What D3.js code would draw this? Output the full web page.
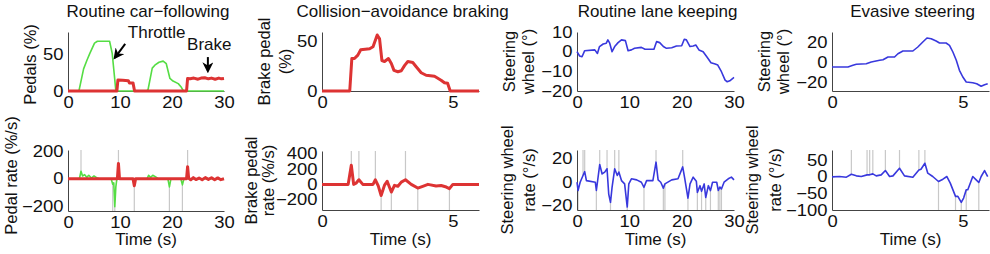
<!DOCTYPE html>
<html>
<head>
<meta charset="utf-8">
<script src="https://cdn.jsdelivr.net/npm/d3@7"></script>
<style>
  body { margin: 0; background: #fff; }
  svg { display: block; font-family: "Liberation Sans", Arial, sans-serif; }
</style>
</head>
<body>
<div id="wrapper"></div>
<script>
// ---- data ----
// routine car-following: pedal position (%)
const throttleT = [0, 2.1, 3.0, 3.66, 4.2, 5.1, 5.65, 8.0, 8.5, 9.0, 9.2, 15.1, 15.4, 16.2, 16.7, 17.5, 18.3, 18.9, 19.6, 20.2, 21.2, 21.8, 22.2, 30];
const throttleV = [0, 0, 30, 42, 51, 65, 67.5, 67.5, 51, 15, 0, 0, 2, 31, 35, 39, 40.5, 37, 17, 13.5, 10, 5, 0, 0];
const brakeT = [0, 9.4, 9.6, 10.5, 11.6, 11.8, 12.5, 12.8, 22.8, 23.0, 23.5, 24.2, 25, 25.6, 26.3, 27, 27.6, 28.3, 29, 29.5, 30];
const brakeV = [0, 0, 15, 14.5, 14, 11, 11, 0, 0, 17, 16.5, 17.5, 16, 17.5, 18, 16.5, 17.5, 16, 17.5, 16.5, 17];
// pedal rate (%/s)
const throttleRateT = [0, 2.2, 2.5, 2.8, 3.2, 3.6, 4.0, 4.5, 5.0, 5.5, 6.0, 8.3, 8.6, 8.8, 9.0, 9.2, 9.4, 15.2, 15.5, 15.9, 16.3, 16.8, 17.3, 19.2, 19.5, 19.8, 21.7, 22.0, 22.3, 30];
const throttleRateV = [0, 0, 55, 20, 30, 10, 25, 5, 20, 8, 0, 0, -40, -30, -205, -60, 0, 0, 25, 10, 25, 15, 0, 0, -60, 0, 0, -45, 0, 0];
const brakeRateT = [0, 9.5, 9.7, 9.9, 10.2, 12.5, 12.75, 13.0, 22.8, 23.0, 23.2, 23.6, 24.1, 24.6, 25.2, 25.8, 26.4, 27.0, 27.6, 28.2, 28.8, 29.4, 30];
const brakeRateV = [0, 0, 112, 0, 0, 0, -52, 0, 0, 88, 5, -8, 8, -6, 5, -8, 8, -5, 7, -8, 6, -7, 0];
const pedalPeaksUp = [["thr", 2.5], ["brk", 9.7], ["brk", 23.0]];
const pedalPeaksDown = [["thr", 8.6], ["thr", 9.0], ["brk", 12.75], ["thr", 19.5], ["thr", 22.0]];

// collision-avoidance braking
const cabT = [0, 1.06, 1.14, 1.24, 1.37, 1.48, 1.82, 1.95, 2.11, 2.2, 2.29, 2.39, 2.54, 2.65, 2.75, 2.9, 3.03, 3.16, 3.28, 3.47, 3.6, 3.79, 3.98, 4.3, 4.55, 4.68, 4.8, 4.9, 6];
const cabV = [0, 0, 33, 33, 36.5, 42, 43, 45, 57, 53, 31, 30, 33, 28, 21, 19.6, 20.6, 26, 30, 29, 24.7, 18.6, 16, 15, 11, 8.4, 7.8, 0, 0];
const cabRateT = [0, 1.0, 1.12, 1.21, 1.3, 1.41, 1.56, 1.95, 2.04, 2.15, 2.26, 2.39, 2.49, 2.65, 2.77, 2.9, 3.03, 3.19, 3.41, 3.66, 3.85, 4.05, 4.36, 4.55, 4.75, 4.87, 5.0, 6];
const cabRateV = [0, 0, 250, 0, 15, 60, 0, 0, 60, -20, -145, -10, 40, -100, -13, -25, 30, 60, 0, -48, -25, 0, -20, -15, -35, -55, 0, 0];
const cabPeaksUp = [1.12, 1.41, 2.04, 3.19];
const cabPeaksDown = [2.26, 2.65, 3.66, 4.87];

// routine lane keeping: steering wheel (deg)
const lkT = [0, 0.5, 0.96, 1.47, 3.4, 3.9, 4.3, 5.0, 5.6, 5.9, 6.25, 6.7, 7.2, 7.85, 8.5, 9.25, 9.76, 10.4, 11, 12.3, 13, 14.7, 15.2, 15.8, 16.5, 17.1, 18.1, 19, 20, 20.5, 20.9, 21.6, 22.2, 22.7, 23.3, 24.1, 24.8, 25.6, 26.4, 26.9, 27.6, 28.3, 28.7, 29.2, 30];
const lkV = [0, -2.2, -2.6, 0.5, 0.9, -0.9, 2.6, 3.9, 4.3, 6, 4.3, 0, 2.6, 4.6, 6, 5.6, 0.5, 0.9, 1.7, 2.2, 1.2, 1.2, 5.1, 4.6, 2.6, 1.7, 2, 2.9, 3, 6.3, 6, 2.6, 2.9, 3.4, 0.9, 0, -2.6, -5.6, -6.3, -6.8, -10.2, -14.5, -15.3, -14.8, -13.1];
const lkRateT = [0, 0.2, 0.6, 1.15, 1.47, 1.8, 3.5, 3.7, 4.34, 4.8, 5.3, 5.74, 6.06, 6.4, 6.7, 7.2, 7.7, 8.0, 8.5, 9.1, 9.6, 9.9, 10.4, 11.4, 12.3, 12.8, 13.3, 14.5, 15.1, 15.5, 16.0, 16.5, 16.8, 18.1, 19.3, 20.2, 20.6, 21.2, 21.6, 22.2, 22.8, 23.0, 23.5, 23.8, 24.3, 24.6, 25.1, 25.5, 25.9, 26.7, 27.0, 27.3, 27.6, 28.1, 28.9, 29.5, 30];
const lkRateV = [0, -7, 0, 5.7, 9, 1.4, 0, -7, 15, 7, 8.6, 11.4, -10, -17, -4.3, 11.4, 5.7, 8.6, 1.4, -1.4, -21, -1.4, 2.9, 2, 0, -4.3, 1.4, 1.4, 17, 2, 0, -5, -1.4, 2, 2.9, 13, 2.9, -13.4, -1.4, 4.3, 0.9, -8.6, -2.9, -7.7, -1.4, -12.9, -2.9, -7.1, 0, 0, -7, -4, -5.7, 0, 2.9, 4.3, 2];
const lkPeaksUp = [1.15, 1.47, 4.34, 5.74, 7.2, 8.0, 15.1, 20.2];
const lkPeaksDown = [0.2, 3.7, 6.4, 9.6, 12.8, 16.5, 16.8, 21.2, 23.0, 23.8, 24.6, 25.5, 27.0, 27.3, 27.6];

// evasive steering
const evT = [0, 0.61, 0.8, 0.93, 1.31, 1.5, 1.82, 1.95, 2.14, 2.39, 2.52, 2.71, 3.09, 3.28, 3.47, 3.63, 3.79, 3.98, 4.11, 4.36, 4.49, 4.62, 4.75, 4.87, 5.0, 5.13, 5.38, 5.53, 5.7, 5.83, 5.95];
const evV = [-5, -5, -3.3, -2.3, -1.7, 0, 1.7, 2.3, 5, 5, 8.3, 11, 11, 15, 20, 24, 23.3, 21, 19, 19, 16.7, 10, 1.7, -8.3, -15, -20, -20.7, -21.7, -24.3, -22.7, -21.7];
const evRateT = [0, 0.29, 0.55, 0.74, 0.93, 1.12, 1.34, 1.44, 1.56, 1.69, 1.88, 2.04, 2.2, 2.33, 2.58, 2.77, 3.09, 3.32, 3.4, 3.55, 3.66, 3.85, 4.07, 4.24, 4.39, 4.52, 4.72, 4.81, 4.94, 5.03, 5.13, 5.19, 5.38, 5.51, 5.61, 5.7, 5.83, 5.95];
const evRateV = [0, 1, -1, 8, 3, 1, 6, 6, 9, 3, 6, 19, 1, 3, 26, 3, -1, 21, 23, 41, 11, 1, -14, -7, 1, -19, -59, -59, -77, -64, -39, -39, 1, -9, -17, 1, 19, 1];
const evPeaksUp = [0.74, 1.34, 1.44, 1.56, 2.04, 2.58, 3.32, 3.55];
const evPeaksDown = [4.07, 4.72, 4.94, 5.13, 5.61];

const titles = ["Routine car\u2212following", "Collision\u2212avoidance braking", "Routine lane keeping", "Evasive steering"];

const GREEN = "#55dd44", RED = "#dd3333", BLUE = "#3838dd", GRAY = "#c8c8c8";
// tick numbers in the original look wider than they are tall
const TICK_FS = 16, TICK_SX = 1.15, LABEL_FS = 16.5, TITLE_FS = 17;

const zip = (t, v) => t.map((d, i) => ({t: d, v: v[i]}));

function drawPanels() {
    const svg = d3.select("#wrapper").append("svg")
        .attr("width", 990)
        .attr("height", 254);

    const label = (parent, txt, x, y, anchor, size, rot) => parent.append("text")
        .attr("transform", `translate(${x},${y})` + (rot ? " rotate(-90)" : ""))
        .attr("text-anchor", anchor)
        .attr("dominant-baseline", rot ? "central" : null)
        .attr("font-size", size)
        .attr("fill", "#111")
        .text(txt);

    const panels = [
        {x: [68, 224], y: [91, 32], xd: [0, 30], yd: [0, 80], xt: [0, 10, 20, 30], yt: [0, 50],
         series: [{d: zip(throttleT, throttleV), c: GREEN, w: 1.6}, {d: zip(brakeT, brakeV), c: RED, w: 3}],
         ylab: ["Pedals (%)"], ylx: [30], yoff: 3, title: titles[0]},
        {x: [68, 224], y: [211, 150], xd: [0, 30], yd: [-236, 210], xt: [0, 10, 20, 30], yt: [-200, 0, 200],
         series: [{k: "thr", d: zip(throttleRateT, throttleRateV), c: GREEN, w: 1.6}, {k: "brk", d: zip(brakeRateT, brakeRateV), c: RED, w: 3}],
         ylab: ["Pedal rate (%/s)"], ylx: [11], yoff: -5, time: true,
         up: pedalPeaksUp, down: pedalPeaksDown},
        {x: [322, 479], y: [91, 32], xd: [0, 6], yd: [0, 60], xt: [0, 5], yt: [0, 50],
         series: [{d: zip(cabT, cabV), c: RED, w: 3}],
         ylab: ["Brake pedal", "(%)"], ylx: [264, 285], title: titles[1]},
        {x: [322, 479], y: [210, 151], xd: [0, 6], yd: [-334, 435], xt: [0, 5], yt: [-200, 0, 200, 400],
         series: [{d: zip(cabRateT, cabRateV), c: RED, w: 3}],
         ylab: ["Brake pedal", "rate (%/s)"], ylx: [251, 268], time: true,
         up: cabPeaksUp, down: cabPeaksDown},
        {x: [577, 734], y: [91, 32], xd: [0, 30], yd: [-20, 10], xt: [0, 10, 20, 30], yt: [-20, -10, 0, 10],
         series: [{d: zip(lkT, lkV), c: BLUE, w: 1.6}],
         ylab: ["Steering", "wheel (\u00b0)"], ylx: [509, 528], title: titles[2]},
        {x: [577, 734], y: [210, 150], xd: [0, 30], yd: [-23.5, 27.3], xt: [0, 10, 20, 30], yt: [-20, 0, 20],
         series: [{d: zip(lkRateT, lkRateV), c: BLUE, w: 1.6}],
         ylab: ["Steering wheel", "rate (\u00b0/s)"], ylx: [507, 529], time: true,
         up: lkPeaksUp, down: lkPeaksDown},
        {x: [832, 989], y: [91, 32], xd: [0, 6], yd: [-29, 30], xt: [0, 5], yt: [-20, 0, 20],
         series: [{d: zip(evT, evV), c: BLUE, w: 1.6}],
         ylab: ["Steering", "wheel (\u00b0)"], ylx: [764, 783], title: titles[3]},
        {x: [832, 989], y: [210, 150], xd: [0, 6], yd: [-100, 81], xt: [0, 5], yt: [-100, -50, 0, 50],
         series: [{d: zip(evRateT, evRateV), c: BLUE, w: 1.6}],
         ylab: ["Steering wheel", "rate (\u00b0/s)"], ylx: [752, 775], time: true,
         up: evPeaksUp, down: evPeaksDown}
    ];

    panels.forEach(p => {
        const xScale = d3.scaleLinear().domain(p.xd).range(p.x);
        const yScale = d3.scaleLinear().domain(p.yd).range(p.y);
        const g = svg.append("g");

        // peak markers (light gray vertical lines to the axis edge)
        const valueAt = (ser, t) => {
            let best = ser.d[0];
            ser.d.forEach(d => { if (Math.abs(d.t - t) < Math.abs(best.t - t)) best = d; });
            return best.v;
        };
        const pick = e => Array.isArray(e) ? [p.series.find(s => s.k === e[0]), e[1]] : [p.series[0], e];
        (p.up || []).forEach(e => {
            const [ser, t] = pick(e);
            g.append("line")
                .attr("x1", xScale(t)).attr("x2", xScale(t))
                .attr("y1", p.y[1]).attr("y2", yScale(valueAt(ser, t)))
                .attr("stroke", GRAY).attr("stroke-width", 1.2);
        });
        (p.down || []).forEach(e => {
            const [ser, t] = pick(e);
            g.append("line")
                .attr("x1", xScale(t)).attr("x2", xScale(t))
                .attr("y1", p.y[0]).attr("y2", yScale(valueAt(ser, t)))
                .attr("stroke", GRAY).attr("stroke-width", 1.2);
        });

        // axes
        const fmt = d3.format("d");
        const xAxis = d3.axisBottom(xScale).tickValues(p.xt).tickFormat(fmt).tickSize(0).tickPadding(6);
        const yAxis = d3.axisLeft(yScale).tickValues(p.yt).tickFormat(fmt).tickSize(0).tickPadding(4);
        const xg = g.append("g").attr("transform", `translate(0,${p.y[0]})`).call(xAxis);
        const yg = g.append("g").attr("transform", `translate(${p.x[0]},0)`).call(yAxis);
        [xg, yg].forEach(a => {
            a.select(".domain").attr("stroke", "#444").attr("stroke-width", 1);
            a.selectAll("text").attr("font-size", TICK_FS).attr("fill", "#111")
                .attr("font-family", "Liberation Sans, Arial, sans-serif")
                .attr("transform", `scale(${TICK_SX},1)`);
        });

        // lines
        const line = d3.line().x(d => xScale(d.t)).y(d => yScale(d.v));
        p.series.forEach(s => {
            g.append("path")
                .datum(s.d)
                .attr("d", line)
                .attr("fill", "none")
                .attr("stroke", s.c)
                .attr("stroke-width", s.w)
                .attr("stroke-linejoin", "round");
        });

        // labels
        const ymid = (p.y[0] + p.y[1]) / 2 + (p.yoff || 0);
        p.ylab.forEach((txt, i) => label(g, txt, p.ylx[i], ymid, "middle", LABEL_FS, true));
        if (p.title) label(g, p.title, (p.x[0] + p.x[1]) / 2 + 2, 17, "middle", TITLE_FS);
        if (p.time) label(g, "Time (s)", (p.x[0] + p.x[1]) / 2, 245, "middle", 17);
        p.xScale = xScale;
        p.yScale = yScale;
    });

    // annotations on the first panel, in data units
    const a = panels[0];
    const defs = svg.append("defs");
    defs.append("marker")
        .attr("id", "head")
        .attr("viewBox", "0 0 10 10")
        .attr("refX", 8).attr("refY", 5)
        .attr("markerWidth", 5.5).attr("markerHeight", 5.5)
        .attr("markerUnits", "strokeWidth")
        .attr("orient", "auto")
        .append("path").attr("d", "M0,0 L10,5 L0,10 L3,5 z").attr("fill", "#000");
    const notes = [
        {label: "Throttle", tx: 11.5, ty: 72, from: [11, 64], to: [9.0, 45]},
        {label: "Brake", tx: 22.9, ty: 55.6, from: [26.9, 46], to: [26.9, 27]}
    ];
    notes.forEach(n => {
        label(svg, n.label, a.xScale(n.tx), a.yScale(n.ty), "start", 17);
        svg.append("line")
            .attr("x1", a.xScale(n.from[0])).attr("y1", a.yScale(n.from[1]))
            .attr("x2", a.xScale(n.to[0])).attr("y2", a.yScale(n.to[1]))
            .attr("stroke", "#000").attr("stroke-width", 2)
            .attr("marker-end", "url(#head)");
    });
}

drawPanels();
</script>
</body>
</html>
